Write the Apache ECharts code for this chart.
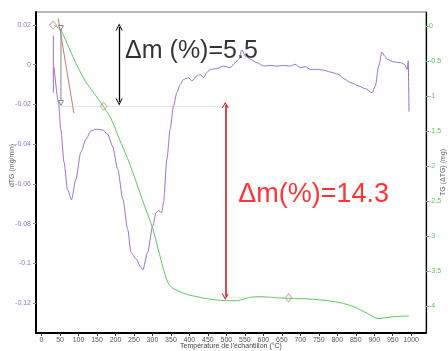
<!DOCTYPE html>
<html>
<head>
<meta charset="utf-8">
<script src="https://cdn.jsdelivr.net/npm/echarts@6/dist/echarts.min.js"></script>
<style>
  html, body { margin: 0; padding: 0; background: #fff; }
  #chart { width: 448px; height: 351px; }
</style>
</head>
<body>
<div id="chart"></div>
<script>
// Derivative of the mass loss (dTG, mg/min) against sample temperature (°C)
const dtgTemp = [34,46,52,61,70,81,93,106,120,134,147,165,179,192,206,220,233,242,256,269,274,287,301,310,316,325,330,339,348,357,366,375,384,397,407,420,429,438,447,456,474,492,510,524,533,542,551,565,583,601,619,637,655,673,686,700,714,727,745,763,781,804,817,836,858,876,894,903,912,921,928,935,953,971,982,989,992,994];
const dtgValue = [-0.0015,-0.0191,-0.0325,-0.0492,-0.0627,-0.068,-0.0576,-0.0442,-0.0375,-0.0333,-0.0325,-0.0328,-0.035,-0.0409,-0.0526,-0.0677,-0.0828,-0.0945,-0.0978,-0.102,-0.1032,-0.0945,-0.081,-0.0744,-0.0734,-0.0744,-0.0693,-0.0476,-0.0325,-0.0208,-0.0141,-0.0099,-0.0074,-0.0065,-0.0082,-0.0057,-0.0049,-0.0065,-0.004,-0.0024,-0.002,-0.0007,-0.0015,0.001,0.0027,0.0074,0.0044,0.0027,0.001,-0.0007,-0.0004,-0.0007,-0.0004,-0.0007,0.0002,-0.0015,-0.001,-0.0024,-0.0024,-0.0027,-0.0037,-0.0049,-0.007,-0.009,-0.0107,-0.0121,-0.0141,-0.0107,-0.0007,0.0064,0.0044,0.0027,0.0014,0.001,0.0002,-0.0024,0.0019,-0.0236];
// short dTG trace recorded at the very start of the run
const dtgStartTemp = [32, 32];
const dtgStartValue = [0.0146, -0.0141];

// Mass change (TG, mg) against temperature
const tgTemp = [34,52,75,98,120,143,165,188,210,233,256,278,301,316,329,340,352,366,384,411,447,474,501,528,546,565,592,619,646,668,700,736,772,808,844,881,912,926,953,994];
const tgValue = [0.01,-0.061,-0.324,-0.586,-0.8,-0.967,-1.133,-1.324,-1.61,-1.896,-2.229,-2.561,-2.896,-3.2,-3.457,-3.643,-3.736,-3.776,-3.819,-3.857,-3.896,-3.914,-3.924,-3.924,-3.904,-3.876,-3.867,-3.876,-3.886,-3.89,-3.896,-3.904,-3.924,-3.953,-4.01,-4.104,-4.181,-4.171,-4.153,-4.143];

// Tick labels
const tempTicks = [0,50,100,150,200,250,300,350,400,450,500,550,600,650,700,750,800,850,900,950,1000];
const dtgTicks = [0.02,0,-0.02,-0.04,-0.06,-0.08,-0.1,-0.12];
const tgTicks = [0,-0.5,-1,-1.5,-2,-2.5,-3,-3.5,-4];

// Onset construction: tangent, onset step, step markers, guide levels
const tangentTemp = [45, 87.5];
const tangentMass = [0.11, -1.247];
const onsetTemp = [52.5, 52.5];
const onsetMass = [-0.029, -1.1];
const stepTemp = [31.4, 168, 668];
const stepMass = [0.014, -1.147, -3.886];
const guideUpperTemp = [54, 511];
const guideUpperMass = [-1.147, -1.147];
const guideLowerTemp = [501, 664];
const guideLowerMass = [-3.876, -3.876];

// Mass-loss arrows and their captions
const arrowTemp = [210, 497];
const arrowTop = [-0.014, -1.129];
const arrowBottom = [-1.086, -3.867];
const noteTemp = [226, 532];
const noteMass = [-0.357, -2.414];
const noteText = ['Δm (%)=5.5', 'Δm(%)=14.3'];
const noteColor = ['#000000', '#ff0000'];
const noteSize = [25, 27];

const zip = (a, b) => a.map((v, i) => [v, b[i]]);
const openHead = 'path://M0,10 L5,0 L10,10 L8.6,10 L5,2.8 L1.4,10 Z';
const font = 'Liberation Sans, Arial, sans-serif';

const chart = echarts.init(document.getElementById('chart'), null, { renderer: 'canvas' });

chart.setOption({
  animation: false,
  backgroundColor: '#ffffff',
  grid: {
    left: 36, right: 22, top: 12, bottom: 18,
    outerBoundsMode: 'none', containLabel: false,
    show: true, borderColor: '#777', borderWidth: 1, backgroundColor: 'transparent'
  },
  xAxis: {
    type: 'value', min: -15, max: 1040,
    name: "Température de l'échantillon (°C)",
    nameLocation: 'middle', nameGap: 10, nameMoveOverlap: false,
    nameTextStyle: { fontSize: 7, color: '#444', fontFamily: font },
    axisLine: { show: true, onZero: false, lineStyle: { color: '#000', width: 2 } },
    axisTick: { show: true, length: 3, customValues: tempTicks, lineStyle: { color: '#333' } },
    axisLabel: { customValues: tempTicks, fontSize: 7, color: '#555', margin: 4, fontFamily: font, formatter: v => String(v) },
    splitLine: { show: false }
  },
  yAxis: [{
    type: 'value', position: 'left', min: -0.135, max: 0.0265,
    name: 'dTG (mg/min)', nameLocation: 'middle', nameGap: 20, nameMoveOverlap: false,
    nameTextStyle: { fontSize: 7, color: '#666', fontFamily: font, padding: [0, 0, 0, 14] },
    axisLine: { show: true, onZero: false, lineStyle: { color: '#000', width: 2 } },
    axisTick: { show: true, length: 3, customValues: dtgTicks, lineStyle: { color: '#9a70c8' } },
    axisLabel: { customValues: dtgTicks, fontSize: 7, color: '#9a70c8', margin: 5, fontFamily: font, formatter: v => String(v) },
    splitLine: { show: false }
  }, {
    type: 'value', position: 'right', min: -4.386, max: 0.2,
    name: 'TG (ΔTG) (mg)', nameLocation: 'middle', nameGap: 14, nameMoveOverlap: false,
    nameTextStyle: { fontSize: 7, color: '#666', fontFamily: font },
    axisLine: { show: true, onZero: false, lineStyle: { color: '#000', width: 1.2 } },
    axisTick: { show: true, length: 3, customValues: tgTicks, lineStyle: { color: '#5cc05c' } },
    axisLabel: { customValues: tgTicks, fontSize: 7, color: '#5cc05c', margin: 3, fontFamily: font, formatter: v => String(v) },
    splitLine: { show: false }
  }],
  series: [
    {
      name: 'dTG', type: 'line', yAxisIndex: 0, data: zip(dtgTemp, dtgValue),
      showSymbol: false, symbol: 'none', smooth: 0.25, smoothMonotone: 'x',
      lineStyle: { color: '#9b6fcf', width: 1 }, silent: true
    },
    {
      name: 'dTG start', type: 'line', yAxisIndex: 0, data: zip(dtgStartTemp, dtgStartValue),
      symbol: 'none', lineStyle: { color: '#9b6fcf', width: 1 }, silent: true
    },
    {
      name: 'TG', type: 'line', yAxisIndex: 1, data: zip(tgTemp, tgValue),
      showSymbol: false, symbol: 'none', smooth: 0.3,
      lineStyle: { color: '#5ec85e', width: 1 }, silent: true,
      markLine: {
        silent: true, symbol: [openHead, openHead], symbolSize: [7, 7],
        label: { show: false },
        lineStyle: { color: '#000', width: 1.3, type: 'solid' },
        data: [[{ coord: [arrowTemp[0], arrowTop[0]] }, { coord: [arrowTemp[0], arrowBottom[0]] }]]
      }
    },
    {
      name: 'tangent', type: 'line', yAxisIndex: 1, data: zip(tangentTemp, tangentMass),
      symbol: 'none', lineStyle: { color: '#c77a6c', width: 1 }, silent: true,
      markLine: {
        silent: true, symbol: [openHead, openHead], symbolSize: [7, 6],
        label: { show: false },
        lineStyle: { color: '#c4101c', width: 1.5, type: 'solid' },
        data: [[{ coord: [arrowTemp[1], arrowTop[1]] }, { coord: [arrowTemp[1], arrowBottom[1]] }]]
      }
    },
    {
      name: 'onset', type: 'line', yAxisIndex: 1, data: zip(onsetTemp, onsetMass),
      symbol: 'triangle', symbolSize: 5, symbolRotate: 180, showSymbol: true,
      itemStyle: { color: '#ffffff', borderColor: '#888', borderWidth: 1 },
      lineStyle: { color: '#999', width: 1.2 }, silent: true
    },
    {
      name: 'upper level', type: 'line', yAxisIndex: 1, data: zip(guideUpperTemp, guideUpperMass),
      symbol: 'none', lineStyle: { color: '#c8c8c8', width: 1, type: 'dotted' }, silent: true
    },
    {
      name: 'lower level', type: 'line', yAxisIndex: 1, data: zip(guideLowerTemp, guideLowerMass),
      symbol: 'none', lineStyle: { color: '#c8c8c8', width: 1, type: 'dotted' }, silent: true
    },
    {
      name: 'steps', type: 'scatter', yAxisIndex: 1, data: zip(stepTemp, stepMass),
      symbol: 'diamond', symbolSize: [7, 8],
      itemStyle: { color: 'rgba(255,255,255,0)', borderColor: '#d49a8a', borderWidth: 1 }, silent: true
    },
    {
      name: 'notes', type: 'scatter', yAxisIndex: 1,
      data: noteTemp.map((t, i) => ({
        value: [t, noteMass[i]],
        label: { color: noteColor[i], fontSize: noteSize[i] }
      })),
      symbolSize: 0, silent: true,
      label: {
        show: true, position: 'right', distance: 0,
        fontFamily: font,
        formatter: p => noteText[p.dataIndex]
      }
    }
  ]
});
</script>
</body>
</html>
